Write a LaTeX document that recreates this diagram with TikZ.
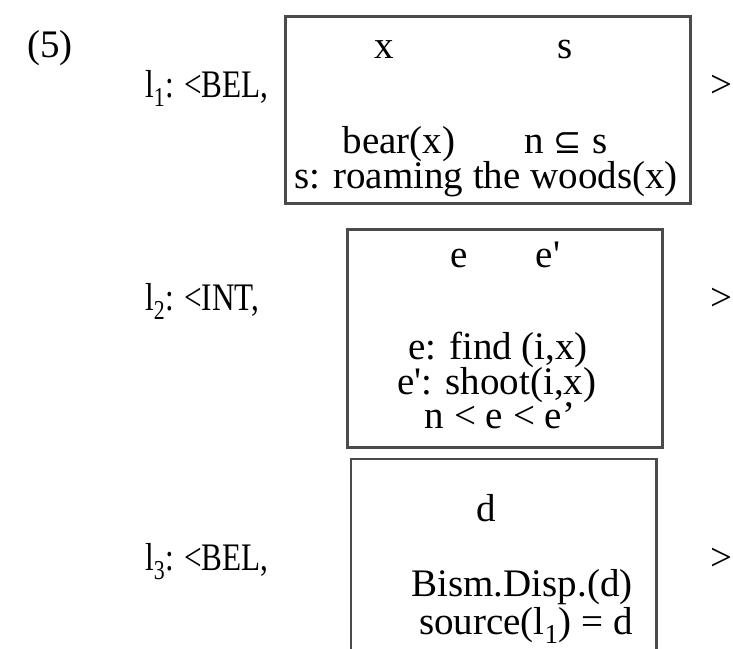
\documentclass[tikz,border=0pt]{standalone}
\usepackage{fontspec}
\setmainfont{Liberation Serif}
\newfontfamily\labfont{Liberation Serif}[FakeStretch=0.8]
\newfontfamily\symfont{DejaVu Sans}
\usetikzlibrary{positioning}
\definecolor{scangray}{RGB}{75,75,75}
\newcommand{\lsub}[1]{l\textsubscript{#1}}
\newcommand{\sq}{\textquotesingle}

\begin{document}
\begin{tikzpicture}[x=1pt,y=-1pt,
    every node/.style={font=\fontsize{39}{46}\selectfont, inner sep=0pt},
    drsbox/.style={draw=scangray, line width=2.6pt}]
  \useasboundingbox (0,0) rectangle (733,648);
  \node[anchor=base] (num) at (50,57) {(5)};
  % labels and closing brackets
  \foreach \r/\lab/\y in {1/BEL/97, 2/INT/310, 3/BEL/570} {
    \node[anchor=base west, font=\fontsize{39}{46}\labfont] (lab\r) at (145,\y) {\lsub{\r}: <\lab,};
    \node[anchor=base] (end\r) at (721,\y) {>};
  }

  % box 1
  \node[drsbox, anchor=north west, minimum width=405pt, minimum height=187pt] (k1) at (284,15) {};
  \node[anchor=base] (k1x) at (384,58) {x};
  \node[anchor=base] (k1s) at (565,58) {s};
  \node[anchor=base] (k1bear) at (399,153) {bear(x)};
  \node[anchor=base] (k1incl) at (566,153) {n {\symfont\fontsize{34}{40}\selectfont ⊆}\ s};
  \node[anchor=base] (k1roam) at (486,188) {s: roaming the woods(x)};

  % box 2
  \node[drsbox, anchor=north west, minimum width=315pt, minimum height=218pt] (k2) at (346,228) {};
  \node[anchor=base] (k2e) at (459,267) {e};
  \node[anchor=base] (k2ee) at (548,267) {e\sq};
  \node[anchor=base] (k2find) at (498,359) {e: find (i,x)};
  \node[anchor=base] (k2shoot) at (497,394) {e\sq: shoot(i,x)};
  \node[anchor=base] (k2ord) at (500,428) {n < e < e'};

  % box 3, open at the bottom
  \node[anchor=north west, minimum width=305pt, minimum height=195pt] (k3) at (351,459) {};
  \draw[drsbox] (k3.south west) -- (k3.north west) -- (k3.north east) -- (k3.south east);
  \node[anchor=base] (k3d) at (486,521) {d};
  \node[anchor=base] (k3bism) at (522,596) {Bism.Disp.(d)};
  \node[anchor=base] (k3src) at (526,634) {source(\lsub{1}) = d};
\end{tikzpicture}
\end{document}
